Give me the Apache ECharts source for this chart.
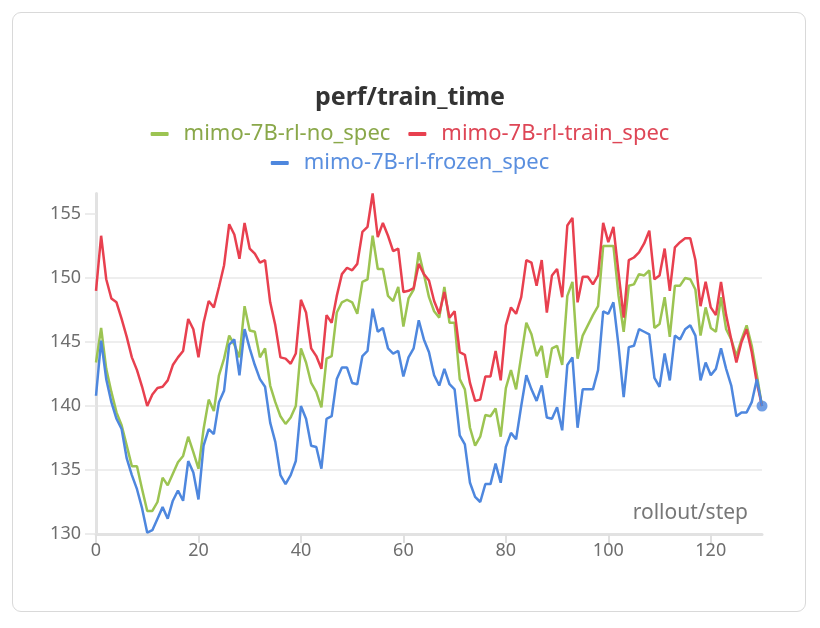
<!DOCTYPE html>
<html lang="en">
<head>
<meta charset="UTF-8">
<title>perf/train_time</title>
<script src="https://cdn.jsdelivr.net/npm/echarts@6/dist/echarts.min.js"></script>
<style>
  html, body { margin: 0; height: 100%; background: #fff; }
  #card { position: absolute; left: 12px; top: 12px; width: 792px; height: 598px;
          border: 1.5px solid #d9d9d9; border-radius: 9px; }
  #container { position: absolute; left: 0; top: 0; width: 820px; height: 628px; }
</style>
</head>
<body>
<div id="card"></div>
<div id="container"></div>
<script type="text/javascript">
// one value per rollout step (0..130)
var noSpec = [
  143.4, 146.1, 142.9, 141.1, 139.5, 138.5, 136.9, 135.3, 135.3, 133.5,
  131.8, 131.8, 132.5, 134.4, 133.8, 134.7, 135.6, 136.1, 137.6, 136.4,
  135.1, 138.2, 140.5, 139.6, 142.4, 143.7, 145.5, 144.8, 143.8, 147.8,
  145.9, 145.8, 143.8, 144.5, 141.6, 140.3, 139.2, 138.6, 139.1, 140.0,
  144.5, 143.4, 141.8, 141.1, 139.9, 143.7, 143.9, 147.3, 148.1, 148.3,
  148.1, 147.2, 149.7, 149.9, 153.3, 150.7, 150.7, 148.6, 148.2, 149.3,
  146.2, 148.4, 149.1, 152.0, 150.3, 148.5, 147.4, 146.9, 149.3, 146.5,
  146.5, 142.1, 141.3, 138.3, 136.9, 137.6, 139.3, 139.2, 139.8, 137.6,
  141.4, 142.8, 141.3, 143.9, 146.5, 145.6, 143.9, 144.7, 142.2, 144.5,
  144.7, 143.2, 148.6, 149.7, 143.7, 145.5, 146.3, 147.1, 147.8, 152.5,
  152.5, 152.5, 148.6, 145.8, 149.4, 149.5, 150.3, 150.2, 150.6, 146.1,
  146.4, 148.5, 145.4, 149.4, 149.4, 150.0, 149.9, 149.1, 145.5, 147.7,
  146.1, 145.8, 148.5, 146.0, 145.2, 143.9, 145.2, 146.3, 144.7, 142.4,
  140.0
];
var trainSpec = [
  149.0, 153.3, 149.9, 148.4, 148.1, 146.8, 145.4, 143.8, 142.8, 141.5,
  140.0, 140.9, 141.4, 141.5, 142.0, 143.2, 143.8, 144.3, 146.8, 146.0,
  143.8, 146.5, 148.2, 147.7, 149.3, 151.0, 154.2, 153.4, 151.5, 154.3,
  152.3, 151.9, 151.2, 151.4, 148.1, 146.3, 143.8, 143.7, 143.3, 144.1,
  148.3, 147.3, 144.5, 143.9, 142.9, 147.1, 146.5, 148.6, 150.3, 150.8,
  150.6, 151.1, 153.6, 154.0, 156.6, 153.2, 154.3, 153.3, 152.1, 152.3,
  148.9, 149.0, 149.2, 151.1, 150.3, 149.8, 148.2, 147.2, 148.9, 146.9,
  147.4, 144.2, 144.0, 141.8, 140.4, 140.5, 142.3, 142.3, 144.3, 142.0,
  146.3, 147.7, 147.2, 148.5, 151.4, 151.2, 149.4, 151.4, 147.3, 150.2,
  150.7, 148.5, 154.1, 154.7, 148.1, 150.1, 150.1, 149.5, 150.2, 154.3,
  152.8, 154.0, 150.4, 146.9, 151.4, 151.6, 152.0, 152.7, 153.7, 149.9,
  150.2, 152.3, 149.0, 152.4, 152.8, 153.1, 153.1, 151.4, 147.8, 149.7,
  147.7, 147.1, 149.7, 147.1, 145.2, 143.4, 145.0, 146.0, 144.2, 141.8,
  140.0
];
var frozenSpec = [
  140.8, 145.1, 142.1, 140.3, 139.0, 138.2, 135.9, 134.6, 133.5, 132.0,
  130.1, 130.3, 131.2, 132.1, 131.2, 132.6, 133.4, 132.6, 135.7, 134.8,
  132.7, 136.9, 138.2, 137.8, 140.3, 141.2, 144.8, 145.2, 142.4, 146.0,
  144.5, 143.2, 142.1, 141.5, 138.7, 137.2, 134.6, 133.9, 134.6, 135.7,
  140.0, 139.0, 136.9, 136.8, 135.1, 139.0, 139.2, 142.1, 143.0, 143.0,
  141.8, 141.7, 143.9, 144.3, 147.6, 145.8, 146.1, 144.5, 144.1, 144.3,
  142.3, 143.8, 144.5, 146.7, 145.2, 144.2, 142.4, 141.6, 142.9, 141.7,
  141.3, 137.7, 137.0, 134.0, 132.9, 132.5, 133.9, 133.9, 135.5, 134.0,
  136.8, 137.9, 137.4, 140.0, 142.4, 141.3, 140.4, 141.6, 139.1, 139.0,
  139.9, 138.1, 143.2, 143.8, 138.3, 141.3, 141.3, 141.3, 142.8, 147.4,
  147.2, 148.1, 144.7, 140.7, 144.6, 144.7, 146.0, 145.8, 145.6, 142.2,
  141.5, 144.1, 142.0, 145.5, 145.2, 146.0, 146.3, 145.5, 142.0, 143.4,
  142.4, 142.9, 144.5, 142.9, 141.6, 139.2, 139.5, 139.5, 140.3, 142.1,
  140.0
];
var xTicks = [0, 20, 40, 60, 80, 100, 120];
var yTicks = [130, 135, 140, 145, 150, 155];

var names = ['mimo-7B-rl-no_spec', 'mimo-7B-rl-train_spec', 'mimo-7B-rl-frozen_spec'];
var lineColors = ['#9cc452', '#e8404f', '#4e87de'];
var textColors = ['#8aa84a', '#de4656', '#5a8fdf'];

// pair every value with its step
var toPoints = function (vals) {
    var res = [];
    for (var i = 0; i < vals.length; i++) {
        res.push([i, vals[i]]);
    }
    return res;
};

var myChart = echarts.init(document.getElementById('container'));
var font = 'Noto Sans';

var legendItem = function (k) {
    return { name: names[k], textStyle: { color: textColors[k] } };
};
var legendBase = {
    left: 'center',
    icon: 'roundRect',
    itemWidth: 18,
    itemHeight: 4,
    itemGap: 18,
    textStyle: { fontFamily: font, fontSize: 22, padding: [0, 0, 0, 10] }
};

var lineSeries = function (k, vals) {
    return {
        name: names[k],
        type: 'line',
        data: toPoints(vals),
        showSymbol: false,
        symbol: 'none',
        color: lineColors[k],
        lineStyle: { width: 2.5, color: lineColors[k] },
        emphasis: { disabled: true }
    };
};

var option = {
    animation: false,
    title: {
        text: 'perf/train_time',
        left: 'center',
        top: 80,
        textStyle: { fontFamily: font, fontSize: 25, fontWeight: 'bold', color: '#333' }
    },
    legend: [
        Object.assign({}, legendBase, { top: 118, data: [legendItem(0), legendItem(1)] }),
        Object.assign({}, legendBase, { top: 147, data: [legendItem(2)] })
    ],
    grid: { left: 96, right: 58, top: 193.5, bottom: 94 },
    xAxis: {
        type: 'value',
        min: 0,
        max: 130,
        interval: 20,
        axisLine: { show: true, lineStyle: { color: '#e2e2e2', width: 3 } },
        axisTick: { show: true, customValues: xTicks, length: 9, lineStyle: { color: '#e0e0e0', width: 2 } },
        axisLabel: { customValues: xTicks, margin: 8, fontFamily: font, fontSize: 18, color: '#6e6e6e' },
        splitLine: { show: false }
    },
    yAxis: {
        type: 'value',
        min: 130,
        max: 156.6,
        interval: 5,
        axisLine: { show: true, lineStyle: { color: '#e2e2e2', width: 3 } },
        axisTick: { show: true, customValues: yTicks, length: 11, lineStyle: { color: '#e6e6e6', width: 1.5 } },
        axisLabel: { customValues: yTicks, margin: 15, fontFamily: font, fontSize: 18, color: '#6e6e6e' },
        splitLine: { show: true, showMaxLine: false, lineStyle: { color: '#e8e8e8', width: 1.5 } }
    },
    graphic: [{
        type: 'text',
        right: 72,
        top: 503,
        style: { text: 'rollout/step', fontFamily: font, fontSize: 21, fill: '#777' }
    }],
    series: [
        lineSeries(0, noSpec),
        lineSeries(1, trainSpec),
        lineSeries(2, frozenSpec),
        {
            type: 'scatter',
            data: [[frozenSpec.length - 1, frozenSpec[frozenSpec.length - 1]]],
            symbolSize: 11,
            itemStyle: { color: lineColors[2] },
            emphasis: { disabled: true },
            silent: true
        }
    ]
};
myChart.setOption(option);
</script>
</body>
</html>
